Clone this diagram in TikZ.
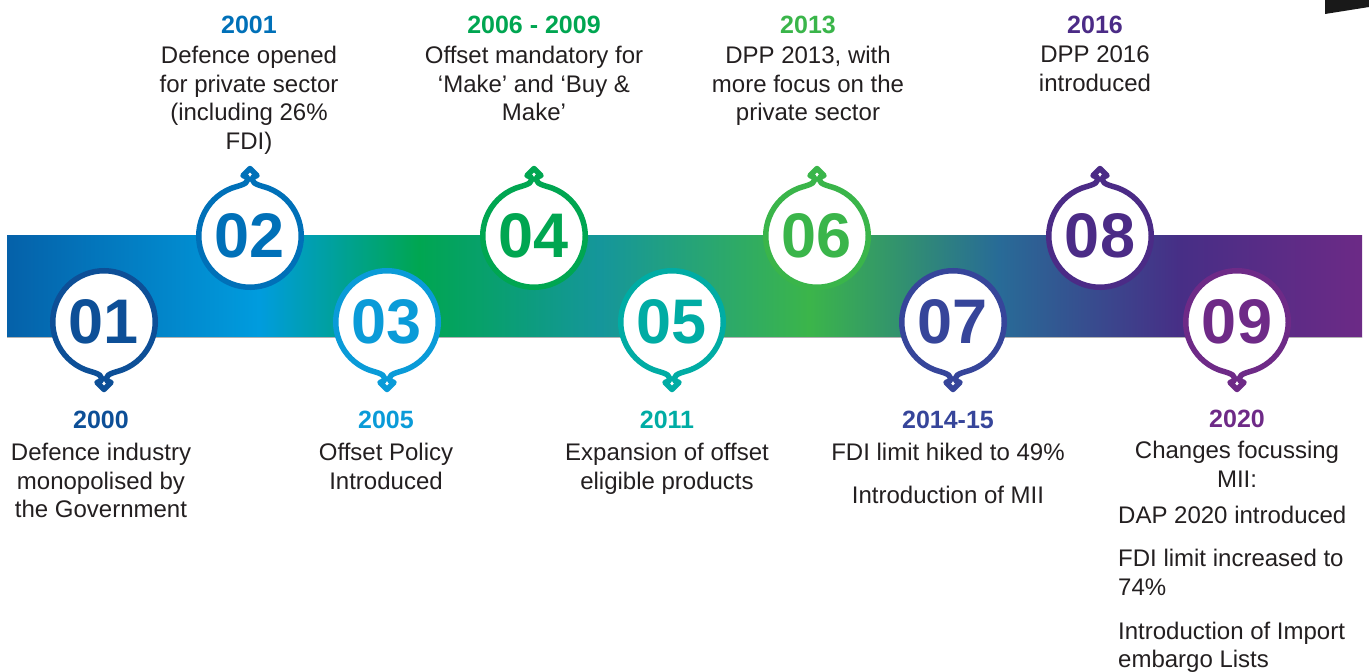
\documentclass[tikz,border=0pt]{standalone}
\usepackage{fontspec}
\setmainfont{Liberation Sans}
\usetikzlibrary{positioning}

\definecolor{c01}{HTML}{0D4F97}
\definecolor{c02}{HTML}{0070B8}
\definecolor{c03}{HTML}{0A9BD8}
\definecolor{c04}{HTML}{00A651}
\definecolor{c05}{HTML}{00ACA4}
\definecolor{c06}{HTML}{3AB54A}
\definecolor{c07}{HTML}{36459A}
\definecolor{c08}{HTML}{4B2B86}
\definecolor{c09}{HTML}{6E2A87}
\definecolor{txt}{HTML}{231F20}
\definecolor{g0}{HTML}{0561A9}
\definecolor{g1}{HTML}{009CDE}
\definecolor{g2}{HTML}{00A651}
\definecolor{g3}{HTML}{15969B}
\definecolor{g4}{HTML}{3BB54A}
\definecolor{g5}{HTML}{286B97}
\definecolor{g6}{HTML}{472E86}
\definecolor{g7}{HTML}{6C2A86}

\pgfdeclarehorizontalshading{timeband}{100bp}{color(0bp)=(g0); color(25bp)=(g0);
  color(34.3bp)=(g1); color(40.2bp)=(g2); color(46.9bp)=(g3); color(54.6bp)=(g4);
  color(61.6bp)=(g5); color(68.3bp)=(g6); color(75bp)=(g7); color(100bp)=(g7)}

\tikzset{
  num/.style={font=\fontsize{63}{63}\selectfont\bfseries, inner sep=0pt},
  balloon/.style={line width=5.5pt, fill=white, line join=round},
  year/.style={font=\fontsize{25}{28}\selectfont\bfseries, anchor=base, inner sep=0pt},
  desc/.style={font=\fontsize{24}{28.7}\selectfont, text=txt, align=center,
    inner sep=0pt, execute at begin node=\rule{0pt}{17.5pt}},
}

\begin{document}
\begin{tikzpicture}[x=1pt,y=-1pt]
\useasboundingbox (0,0) rectangle (1369,672);

\fill[black!90] (1325,0) -- (1369,0) -- (1369,7) -- (1325,14) -- cycle;
\shade[shading=timeband] (7,235) rectangle (1362,337);
\draw[gray!60, line width=0.8pt] (7,337) -- (1362,337);

\foreach \n/\x/\y/\c/\d in {01/104/322/c01/1, 02/250/236/c02/-1, 03/387/322/c03/1,
    04/534/236/c04/-1, 05/672/322/c05/1, 06/817/236/c06/-1, 07/953/322/c07/1,
    08/1100/236/c08/-1, 09/1237/322/c09/1}{
  \begin{scope}[shift={(\x,\y)}, yscale=\d]
    \draw[balloon, draw=\c] (112:51.25) .. controls (-13.6,49.8) and (-2.5,51.5) .. (-2.5,56)
      -- (-2.5,58.5) -- (-7,60.5) -- (0,67.5) -- (7,60.5) -- (2.5,58.5) -- (2.5,56)
      .. controls (2.5,51.5) and (13.6,49.8) .. (68:51.25)
      arc[start angle=68, end angle=-248, radius=51.25] -- cycle;
  \end{scope}
  \node[num, text=\c] (n\n) at (\x,\y) {\n};
}

\node[year, text=c01] (y2000) at (101,428) {2000};
\node[desc, below=14.5pt of y2000] (d2000) {Defence industry\\monopolised by\\the Government};

\node[year, text=c02] (y2001) at (249,33) {2001};
\node[desc, below=12.5pt of y2001] (d2001) {Defence opened\\for private sector\\(including 26\%\\FDI)};

\node[year, text=c03] (y2005) at (386,428) {2005};
\node[desc, below=14.5pt of y2005] (d2005) {Offset Policy\\Introduced};

\node[year, text=c04] (y2006) at (534,33) {2006 - 2009};
\node[desc, below=12.5pt of y2006] (d2006) {Offset mandatory for\\‘Make’ and ‘Buy \&\\Make’};

\node[year, text=c05] (y2011) at (667,428) {2011};
\node[desc, below=14.5pt of y2011] (d2011) {Expansion of offset\\eligible products};

\node[year, text=c06] (y2013) at (808,33) {2013};
\node[desc, below=12.5pt of y2013] (d2013) {DPP 2013, with\\more focus on the\\private sector};

\node[year, text=c07] (y2014) at (948,428) {2014-15};
\node[desc, below=14.5pt of y2014] (d2014) {FDI limit hiked to 49\%\\[14pt]Introduction of MII};

\node[year, text=c08] (y2016) at (1095,33) {2016};
\node[desc, below=12.5pt of y2016] (d2016) {DPP 2016\\introduced};

\node[year, text=c09] (y2020) at (1237,427) {2020};
\node[desc, below=13.5pt of y2020] (d2020) {Changes focussing\\MII:};
\node[desc, align=left, anchor=north west] (d2020b) at (1118,505.5)
  {DAP 2020 introduced\\[15pt]FDI limit increased to\\74\%\\[15pt]Introduction of Import\\embargo Lists};
\end{tikzpicture}
\end{document}
